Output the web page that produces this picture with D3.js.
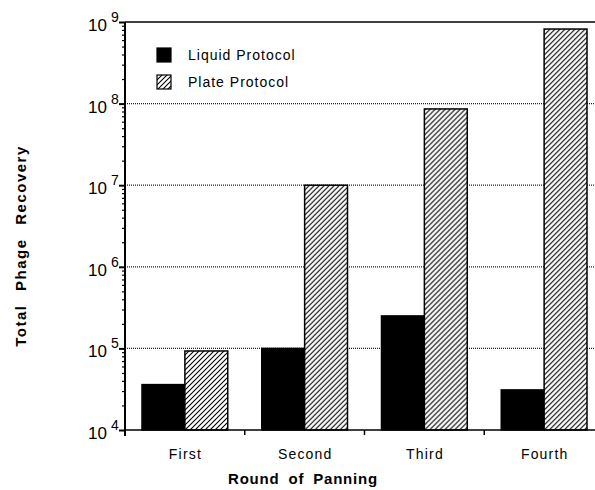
<!DOCTYPE html>
<html><head><meta charset="utf-8">
<script src="https://cdn.jsdelivr.net/npm/d3@7/dist/d3.min.js"></script>
<style>body{margin:0;background:#fff}svg{display:block;font-family:"Liberation Sans",Arial,Helvetica,sans-serif}</style>
</head><body>
<svg id="c" width="595" height="490"></svg>
<script>
const categories = ["First", "Second", "Third", "Fourth"];
const seriesNames = ["Liquid Protocol", "Plate Protocol"];
const liquid = [3.6e4, 1.0e5, 2.5e5, 3.1e4];
const plate = [9.3e4, 1.0e7, 8.6e7, 8.2e8];
const majorExps = [4, 5, 6, 7, 8, 9];
const gridExps = [5, 6, 7, 8];

const svg = d3.select("#c");
const pLeft = 125, pRight = 604, pTop = 22, pBottom = 430;

const defs = svg.append("defs");
const pat = defs.append("pattern").attr("id", "hatch").attr("patternUnits", "userSpaceOnUse")
  .attr("width", 5).attr("height", 5);
pat.append("rect").attr("width", 5).attr("height", 5).attr("fill", "#fff");
pat.append("path").attr("d", "M-1,1 l2,-2 M0,5 l5,-5 M4,6 l2,-2")
  .attr("stroke", "#000").attr("stroke-width", 1.1);

const x = d3.scaleBand().domain(categories).range([pLeft, pRight]).padding(0);
const y = d3.scaleLog().domain([1e4, 1e9]).range([pBottom, pTop]);
const inner = d3.scaleBand().domain(seriesNames).range([17, x.bandwidth() - 17]).padding(0);

// grid lines
svg.append("g").selectAll("line").data(gridExps).join("line")
  .attr("x1", pLeft).attr("x2", 595)
  .attr("y1", d => y(Math.pow(10, d))).attr("y2", d => y(Math.pow(10, d)))
  .attr("stroke", "#222").attr("stroke-width", 1.2).attr("stroke-dasharray", "1,1");

// top line
svg.append("line").attr("x1", pLeft).attr("x2", 595).attr("y1", y(1e9)).attr("y2", y(1e9))
  .attr("stroke", "#000").attr("stroke-width", 1.5);

// bars
const data = categories.map((c, i) => ({c, vals: [liquid[i], plate[i]]}));
const g = svg.append("g").selectAll("g").data(data).join("g")
  .attr("transform", d => `translate(${x(d.c)},0)`);
g.selectAll("rect").data(d => d.vals.map((v, j) => ({v, s: seriesNames[j], j}))).join("rect")
  .attr("x", d => inner(d.s))
  .attr("width", inner.bandwidth())
  .attr("y", d => y(d.v))
  .attr("height", d => pBottom - y(d.v))
  .attr("fill", d => d.j === 0 ? "#000" : "url(#hatch)")
  .attr("stroke", "#000").attr("stroke-width", 1.5);

// y axis with minor ticks
const minorVals = [];
for (let e = 4; e < 9; e++) for (let m = 2; m <= 9; m++) minorVals.push(m * Math.pow(10, e));
const yAxisMinor = d3.axisLeft(y).tickValues(minorVals).tickSize(3).tickFormat("");
const ym = svg.append("g").attr("transform", `translate(${pLeft},0)`).call(yAxisMinor);
ym.select(".domain").remove();
ym.selectAll("line").attr("stroke-width", 1.2);
const yAxis = d3.axisLeft(y).tickValues(majorExps.map(e => Math.pow(10, e))).tickSize(6).tickFormat("");
const ya = svg.append("g").attr("transform", `translate(${pLeft},0)`).call(yAxis);
ya.select(".domain").attr("d", `M0,${pTop}V${pBottom + 6}`).attr("stroke-width", 2);
ya.selectAll(".tick line").attr("stroke-width", 2);

// y tick labels
svg.append("g").selectAll("text").data(majorExps).join("text")
  .attr("x", 107).attr("y", d => y(Math.pow(10, d)) + 9)
  .attr("text-anchor", "end").attr("font-size", 17).attr("fill", "#000").text("10");
svg.append("g").selectAll("text").data(majorExps).join("text")
  .attr("x", 111).attr("y", d => y(Math.pow(10, d)) + 0)
  .attr("font-size", 14).attr("fill", "#000").text(d => d);

// x axis
const xAxis = d3.axisBottom(x).tickSize(0).tickFormat("");
const xa = svg.append("g").attr("transform", `translate(0,${pBottom})`).call(xAxis);
xa.select(".domain").attr("d", `M${pLeft},0H595`).attr("stroke-width", 1.5);
xa.selectAll(".tick").remove();
svg.append("g").selectAll("line").data(categories.slice(1)).join("line")
  .attr("x1", d => x(d)).attr("x2", d => x(d)).attr("y1", pBottom).attr("y2", pBottom + 5)
  .attr("stroke", "#000").attr("stroke-width", 1.5);
svg.append("g").selectAll("text").data(categories).join("text")
  .attr("x", d => x(d) + x.bandwidth() / 2 + 0.6).attr("y", pBottom + 29)
  .attr("text-anchor", "middle").attr("font-size", 14).attr("letter-spacing", 1.2)
  .attr("fill", "#000").text(d => d);

// axis titles
svg.append("text").attr("x", 303).attr("y", 484).attr("text-anchor", "middle")
  .attr("font-size", 15).attr("font-weight", "bold").attr("letter-spacing", 0.8)
  .attr("word-spacing", 4).text("Round of Panning");
svg.append("text").attr("transform", "translate(26,246) rotate(-90)").attr("text-anchor", "middle")
  .attr("font-size", 15).attr("font-weight", "bold").attr("letter-spacing", 1.5)
  .attr("word-spacing", 8).text("Total Phage Recovery");

// legend
const leg = svg.append("g").selectAll("g").data(seriesNames).join("g")
  .attr("transform", (d, i) => `translate(157,${48 + i * 27})`);
leg.append("rect").attr("width", 14).attr("height", 14)
  .attr("fill", (d, i) => i === 0 ? "#000" : "url(#hatch)").attr("stroke", "#000").attr("stroke-width", 1.2);
leg.append("text").attr("x", 31).attr("y", 12).attr("font-size", 14).attr("letter-spacing", 1)
  .attr("fill", "#000").text(d => d);
</script>
</body></html>
